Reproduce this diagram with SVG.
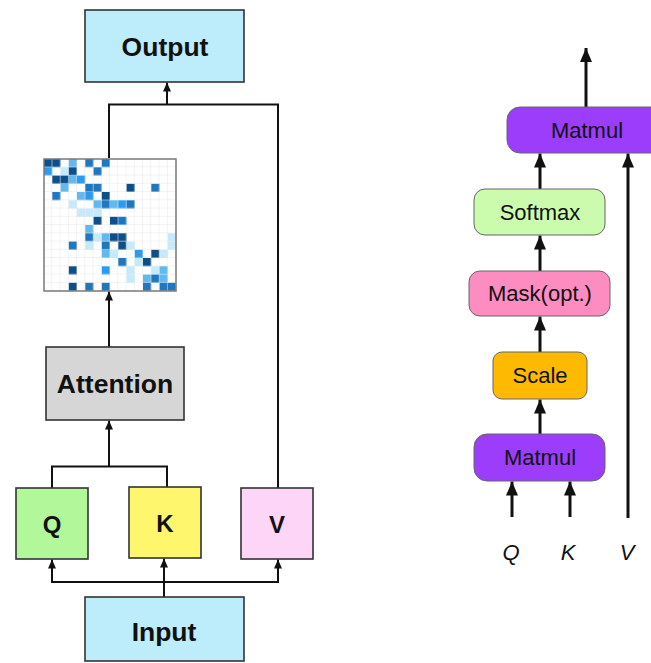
<svg xmlns="http://www.w3.org/2000/svg" width="651" height="663" viewBox="0 0 651 663">
<style>
.lb{font-family:"Liberation Sans",Arial,sans-serif;font-weight:bold;font-size:26.5px;fill:#111;text-anchor:middle}
.lq{font-family:"Liberation Sans",Arial,sans-serif;font-weight:bold;font-size:24px;fill:#111;text-anchor:middle}
.rb{font-family:"Liberation Sans",Arial,sans-serif;font-size:22px;fill:#111;text-anchor:middle}
.ri{font-family:"Liberation Sans",Arial,sans-serif;font-style:italic;font-size:22px;fill:#111;text-anchor:middle}
.lbox{stroke:#333;stroke-width:1.6}
.rbox{stroke:#666;stroke-width:1}
.lc{fill:none;stroke:#111;stroke-width:2}
.rc{fill:none;stroke:#111;stroke-width:3}
.D{fill:#0d4f8b}.M{fill:#1f77c0}.B{fill:#2b9af3}.L{fill:#62b9ee}.V{fill:#c4ebfb}
</style>
<defs>
<marker id="la" markerUnits="userSpaceOnUse" markerWidth="9" markerHeight="8" refX="9" refY="4" orient="auto"><path d="M0,0 L9,4 L0,8 z" fill="#111"/></marker>
<marker id="ra" markerUnits="userSpaceOnUse" markerWidth="14" markerHeight="12" refX="14" refY="6" orient="auto"><path d="M0,0 L14,6 L0,12 z" fill="#111"/></marker>
<pattern id="grid" patternUnits="userSpaceOnUse" x="44" y="159" width="8.25" height="8.25"><path d="M8.25 0V8.25H0" fill="none" stroke="#e2e2e2" stroke-width="0.8"/></pattern>
</defs>
<rect width="651" height="663" fill="#fff"/>

<g id="connectors">
<path class="lc" d="M109 158 V104.5 H278 V488"/>
<path class="lc" d="M167 104.5 V82.5" marker-end="url(#la)"/>
<path class="lc" d="M109 347 V291.5" marker-end="url(#la)"/>
<path class="lc" d="M52 488 V466.5 H167 V487"/>
<path class="lc" d="M109 466.5 V420.5" marker-end="url(#la)"/>
<path class="lc" d="M52 582 H278"/>
<path class="lc" d="M52 583 V559.5" marker-end="url(#la)"/>
<path class="lc" d="M278 583 V559.5" marker-end="url(#la)"/>
<path class="lc" d="M164 597 V558.5" marker-end="url(#la)"/>

<path class="rc" d="M586 107 V48" marker-end="url(#ra)"/>
<path class="rc" d="M540 189 V153.5" marker-end="url(#ra)"/>
<path class="rc" d="M540 271 V235.5" marker-end="url(#ra)"/>
<path class="rc" d="M540 352 V316.5" marker-end="url(#ra)"/>
<path class="rc" d="M540 434 V399.5" marker-end="url(#ra)"/>
<path class="rc" d="M512 517 V481.5" marker-end="url(#ra)"/>
<path class="rc" d="M570 517 V481.5" marker-end="url(#ra)"/>
<path class="rc" d="M628 518 V153.5" marker-end="url(#ra)"/>
</g>

<g id="output"><rect class="lbox" x="85" y="10" width="159" height="72" fill="#bdedfb"/><text class="lb" x="165" y="56">Output</text></g>

<g id="heatmap">
<rect x="44" y="159" width="132" height="132" fill="#fff"/>
<g transform="translate(44 159) scale(8.25)">
<rect class="D" x="0" y="0" width="1" height="1"/><rect class="D" x="1" y="0" width="1" height="1"/><rect class="L" x="3" y="0" width="1" height="1"/><rect class="M" x="5" y="0" width="1" height="1"/><rect class="M" x="7" y="0" width="1" height="1"/>
<rect class="B" x="0" y="1" width="1" height="1"/><rect class="V" x="2" y="1" width="1" height="1"/><rect class="D" x="3" y="1" width="1" height="1"/><rect class="M" x="6" y="1" width="1" height="1"/>
<rect class="D" x="1" y="2" width="1" height="1"/><rect class="D" x="2" y="2" width="1" height="1"/><rect class="L" x="3" y="2" width="1" height="1"/><rect class="B" x="4" y="2" width="1" height="1"/>
<rect class="L" x="2" y="3" width="1" height="1"/><rect class="M" x="5" y="3" width="1" height="1"/><rect class="M" x="6" y="3" width="1" height="1"/><rect class="D" x="10" y="3" width="1" height="1"/><rect class="M" x="13" y="3" width="1" height="1"/>
<rect class="M" x="1" y="4" width="1" height="1"/><rect class="L" x="4" y="4" width="1" height="1"/><rect class="B" x="5" y="4" width="1" height="1"/><rect class="D" x="7" y="4" width="1" height="1"/>
<rect class="V" x="3" y="5" width="1" height="1"/><rect class="L" x="6" y="5" width="1" height="1"/><rect class="M" x="7" y="5" width="1" height="1"/><rect class="L" x="8" y="5" width="1" height="1"/><rect class="B" x="9" y="5" width="1" height="1"/><rect class="M" x="10" y="5" width="1" height="1"/>
<rect class="V" x="4" y="6" width="1" height="1"/><rect class="V" x="5" y="6" width="1" height="1"/><rect class="V" x="6" y="6" width="1" height="1"/>
<rect class="D" x="6" y="7" width="1" height="1"/><rect class="D" x="8" y="7" width="1" height="1"/><rect class="M" x="9" y="7" width="1" height="1"/>
<rect class="L" x="5" y="8" width="1" height="1"/>
<rect class="M" x="5" y="9" width="1" height="1"/><rect class="V" x="6" y="9" width="1" height="1"/><rect class="L" x="7" y="9" width="1" height="1"/><rect class="D" x="8" y="9" width="1" height="1"/><rect class="D" x="9" y="9" width="1" height="1"/><rect class="V" x="15" y="9" width="1" height="1"/>
<rect class="M" x="3" y="10" width="1" height="1"/><rect class="V" x="5" y="10" width="1" height="1"/><rect class="M" x="7" y="10" width="1" height="1"/><rect class="D" x="9" y="10" width="1" height="1"/><rect class="V" x="10" y="10" width="1" height="1"/><rect class="V" x="15" y="10" width="1" height="1"/>
<rect class="L" x="7" y="11" width="1" height="1"/><rect class="V" x="8" y="11" width="1" height="1"/><rect class="B" x="11" y="11" width="1" height="1"/><rect class="D" x="13" y="11" width="1" height="1"/><rect class="V" x="14" y="11" width="1" height="1"/>
<rect class="M" x="9" y="12" width="1" height="1"/><rect class="V" x="11" y="12" width="1" height="1"/><rect class="D" x="12" y="12" width="1" height="1"/>
<rect class="D" x="3" y="13" width="1" height="1"/><rect class="B" x="7" y="13" width="1" height="1"/><rect class="V" x="10" y="13" width="1" height="1"/><rect class="V" x="13" y="13" width="1" height="1"/><rect class="L" x="14" y="13" width="1" height="1"/>
<rect class="V" x="10" y="14" width="1" height="1"/><rect class="L" x="12" y="14" width="1" height="1"/><rect class="M" x="13" y="14" width="1" height="1"/><rect class="L" x="14" y="14" width="1" height="1"/>
<rect class="D" x="3" y="15" width="1" height="1"/><rect class="M" x="5" y="15" width="1" height="1"/><rect class="M" x="7" y="15" width="1" height="1"/><rect class="M" x="12" y="15" width="1" height="1"/><rect class="M" x="14" y="15" width="1" height="1"/><rect class="M" x="15" y="15" width="1" height="1"/>
</g>
<rect x="44" y="159" width="132" height="132" fill="url(#grid)"/>
<rect x="44" y="159" width="132" height="132" fill="none" stroke="#7a7a7a" stroke-width="1.5"/>
</g>

<g id="attention"><rect class="lbox" x="46" y="347" width="138" height="73" fill="#d6d6d6" stroke="#555"/><text class="lb" x="115" y="393">Attention</text></g>
<g id="q"><rect class="lbox" x="16" y="488" width="72" height="71" fill="#b3f79b"/><text class="lq" x="52" y="533">Q</text></g>
<g id="k"><rect class="lbox" x="129" y="487" width="72" height="71" fill="#fef76e"/><text class="lq" x="165" y="532">K</text></g>
<g id="v"><rect class="lbox" x="241" y="488" width="72" height="71" fill="#fdd6f7"/><text class="lq" x="277" y="533">V</text></g>
<g id="input"><rect class="lbox" x="85" y="597" width="159" height="64" fill="#bdedfb"/><text class="lb" x="164" y="641">Input</text></g>

<g id="matmul-top"><rect class="rbox" x="507" y="107" width="170" height="46" rx="13" fill="#9b3dfa"/><text class="rb" x="587" y="138">Matmul</text></g>
<g id="softmax"><rect class="rbox" x="474" y="189" width="131" height="46" rx="11" fill="#cbfcae"/><text class="rb" x="540" y="220">Softmax</text></g>
<g id="mask"><rect class="rbox" x="469" y="271" width="141" height="45" rx="11" fill="#fd8dc1"/><text class="rb" x="540" y="301">Mask(opt.)</text></g>
<g id="scale"><rect class="rbox" x="493" y="352" width="94" height="47" rx="9" fill="#fdba00"/><text class="rb" x="540" y="383">Scale</text></g>
<g id="matmul-bottom"><rect class="rbox" x="474" y="434" width="131" height="47" rx="13" fill="#9b3dfa"/><text class="rb" x="540" y="465">Matmul</text></g>
<g id="labels"><text class="ri" x="511" y="560">Q</text><text class="ri" x="568" y="560">K</text><text class="ri" x="627" y="560">V</text></g>
</svg>
